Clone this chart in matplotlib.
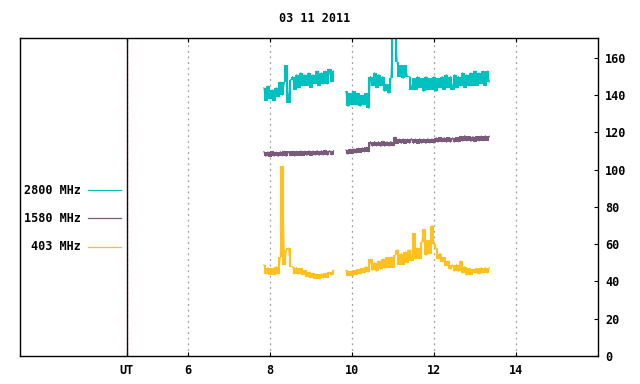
#!/usr/bin/python3

# radio flux plot for 03 11 2011, gnuplot-ish look
import numpy as np
import matplotlib
matplotlib.use("Agg")
import matplotlib.pyplot as plt
from matplotlib.lines import Line2D

# sample times (UT hours), two observing blocks
t1 = np.round(np.arange(7.85, 9.551, 0.05), 3)   # 35 samples
t2 = np.round(np.arange(9.85, 13.351, 0.05), 3)  # 71 samples

# 2800 MHz
f2800_a = [144, 137, 145, 138, 143, 137, 144, 139, 147, 140,
           147, 156, 136, 148, 150, 143, 151, 144, 152, 145,
           151, 145, 152, 144, 151, 146, 153, 145, 152, 146,
           153, 146, 154, 147, 153]
f2800_b = [142, 134, 141, 135, 142, 135, 141, 134, 140, 135,
           141, 133, 150, 145, 152, 144, 151, 145, 150, 142,
           146, 141, 149, 178, 178, 158, 150, 156, 149, 156,
           150, 150, 143, 149, 143, 150, 144, 149, 142, 150,
           143, 149, 143, 150, 142, 149, 144, 150, 143, 151,
           144, 150, 143, 151, 144, 150, 145, 152, 144, 151,
           145, 152, 145, 153, 145, 152, 146, 153, 145, 153,
           147]

# 1580 MHz
f1580_a = [109.7, 107.2, 109.6, 107.0, 109.8, 107.3, 109.5, 107.1, 109.7, 107.4,
           109.9, 107.2, 109.8, 107.5, 110.0, 107.3, 109.9, 107.6, 110.1, 107.5,
           110.0, 107.7, 110.2, 107.6, 110.1, 107.8, 110.3, 107.7, 110.2, 107.9,
           110.4, 107.8, 110.3, 108.0, 110.2]
f1580_b = [110.6, 108.3, 110.9, 108.6, 111.2, 108.9, 111.5, 109.2, 111.8, 109.5,
           112.0, 109.6, 115.0, 112.6, 115.1, 112.7, 115.0, 112.5, 115.2, 112.6,
           115.0, 112.7, 115.1, 112.8, 117.5, 114.0, 116.5, 114.1, 116.6, 114.0,
           116.5, 114.2, 116.7, 114.1, 116.5, 114.0, 116.6, 114.2, 116.5, 114.1,
           116.7, 114.3, 116.6, 114.2, 117.2, 114.8, 117.3, 114.9, 117.2, 114.7,
           117.3, 114.8, 117.1, 114.8, 117.3, 114.9, 118.0, 115.3, 118.3, 115.4,
           117.9, 115.2, 117.8, 115.1, 117.9, 115.4, 118.1, 115.5, 118.2, 115.6,
           118.0]

# 403 MHz
f403_a = [49, 44, 47.5, 43.5, 47, 43.5, 48, 44, 53, 102,
          49, 57, 58, 48, 48, 44, 47.5, 44, 47, 43.5,
          46, 42.5, 45, 42, 44.5, 41.5, 44, 41.5, 44.2, 41.8,
          44.5, 42, 45, 43.5, 46]
f403_b = [46, 43, 45.5, 43, 46, 43.5, 46.5, 44, 47, 44.5,
          48, 45, 52, 46, 50, 45.5, 51, 46.5, 52, 47,
          53, 47.5, 53, 47.5, 54, 57, 49, 55, 49, 56,
          50, 57, 51, 66, 52, 58, 52, 61, 68, 54,
          62, 55, 70, 60, 58, 52, 55, 50.5, 53, 48.5,
          51, 46.5, 49, 45.5, 49, 45.5, 51, 44.5, 48, 43.5,
          47, 43.5, 46.5, 44.5, 47, 44, 47.5, 44.5, 47.5, 44.5,
          47.5]

labels = ["2800 MHz", "1580 MHz", "403 MHz"]
colors = ["#00c0c0", "#7b5b7b", "#ffc020"]
xticks = [4.5, 6, 8, 10, 12, 14]
xticklabels = ["UT", "6", "8", "10", "12", "14"]
yticks = list(range(0, 161, 20))

plt.rcParams["font.family"] = ["DejaVu Sans Mono"]
plt.rcParams["font.size"] = 8.5
plt.rcParams["font.weight"] = "bold"

fig = plt.figure(figsize=(6.4, 3.84), dpi=100)
ax = fig.add_axes([20 / 640, 1 - 356 / 384, 578 / 640, 318 / 384])

series = [(f2800_a, f2800_b), (f1580_a, f1580_b), (f403_a, f403_b)]
for (a, b), c in zip(series, colors):
    for t, v in ((t1, a), (t2, b)):
        v = np.asarray(v)
        # the noise is denser than a pixel, so fill each sample gap as a vertical stroke
        tm = (t[:-1] + t[1:]) / 2
        ax.vlines(tm, np.minimum(v[:-1], v[1:]), np.maximum(v[:-1], v[1:]),
                  color=c, lw=1.5)
        ax.plot(t, v, color=c, lw=0.8)

ax.axvline(4.5, color="#300000", lw=1.0)

ax.set_xlim(1.9, 16.0)
ax.set_ylim(0, 170.7)
ax.set_xticks(xticks)
ax.set_xticklabels(xticklabels)
ax.set_yticks(yticks)
ax.yaxis.tick_right()
ax.tick_params(axis="x", direction="in", length=3, top=True, pad=6)
ax.tick_params(axis="y", direction="in", length=3, left=False, right=True, pad=5)
ax.xaxis.grid(True, color="#a0a0a0", linestyle=(0, (1.5, 3)), lw=0.9)
for s in ax.spines.values():
    s.set_linewidth(1.0)

# key on the left, gnuplot style
key_y = [190, 218, 247]
for lab, c, y in zip(labels, colors, key_y):
    fig.text(81 / 640, 1 - y / 384, lab, ha="right", va="center")
    fig.add_artist(Line2D([88 / 640, 121 / 640], [1 - y / 384] * 2, color=c, lw=0.9))

fig.text(315 / 640, 1 - 18 / 384, "03 11 2011", ha="center", va="center")

fig.savefig("out.png", dpi=100)
